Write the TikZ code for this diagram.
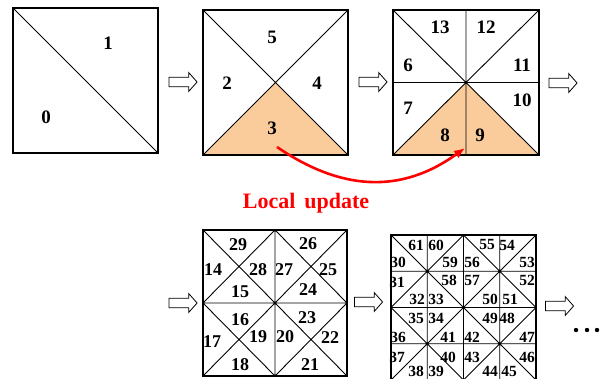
\documentclass[tikz,border=0pt]{standalone}
\usepackage{fontspec}
\setmainfont{Liberation Serif}
\usepackage{xcolor}
\usetikzlibrary{positioning, arrows.meta, shapes.arrows}
\definecolor{peach}{RGB}{250,204,156}

\begin{document}
\begin{tikzpicture}[
    x=1pt, y=-1pt,
    num/.style ={font=\fontsize{19}{19}\selectfont\bfseries, inner sep=0pt},
    numb/.style={font=\fontsize{18}{18}\selectfont\bfseries, inner sep=0pt},
    numc/.style={font=\fontsize{15.5}{15.5}\selectfont\bfseries, inner sep=0pt},
    frame/.style={draw, line width=1.2pt},
    cut/.style={draw, line width=0.9pt},
    hot/.style={fill=peach},
    nextarr/.style={
        single arrow,
        draw,
        line width=0.8pt,
        inner xsep=0pt,
        inner ysep=4.3pt,
        minimum height=28pt,
        single arrow head extend=4.7pt,
        single arrow tip angle=97
    },
    update/.style={-{Latex[length=11pt, width=9pt]}, line width=2.6pt, red}
]
\useasboundingbox (0,0) rectangle (601,379);

% stage 0
\draw[cut] (13,8) -- (158,153);
\draw[frame] (13,8) rectangle (158,153);
\node[num] (t0) at (46,117) {0};
\node[num] (t1) at (108,43) {1};

% stage 1
\fill[hot] (203,155) -- (275.5,82.5) -- (348,155) -- cycle;
\draw[cut] (203,10) -- (348,155) (348,10) -- (203,155);
\draw[frame] (203,10) rectangle (348,155);
\node[num] (t2) at (227,83)  {2};
\node[num] (t3) at (272,128) {3};
\node[num] (t4) at (317,83)  {4};
\node[num] (t5) at (272,37)  {5};

% stage 2
\fill[hot] (393,155) -- (466,82.5) -- (539,155) -- cycle;
\draw[cut] (393,10) -- (539,155) (539,10) -- (393,155)
           (466,10) -- (466,155) (393,82.5) -- (539,82.5);
\draw[frame] (393,10) rectangle (539,155);
\node[num] (t6)  at (408,65)  {6};
\node[num] (t7)  at (408,108) {7};
\node[num] (t8)  at (445,135) {8};
\node[num] (t9)  at (480,135) {9};
\node[num] (t10) at (522,100) {10};
\node[num] (t11) at (522,65)  {11};
\node[num] (t12) at (486,27)  {12};
\node[num] (t13) at (440,27)  {13};

% local update
\coordinate (from3) at (277,147);
\coordinate (to9)   at (465,148);
\draw[update] (from3) .. controls (340,190) and (400,195) .. (to9);
\node[font=\fontsize{22}{22}\selectfont\bfseries, text=red] (upd) at (306,203)
    {Local\hspace{9pt}update};

% stage 3
\draw[cut] (203,230) -- (347,376) (347,230) -- (203,376)
           (275,230) -- (275,376) (203,303) -- (347,303)
           (275,230) -- (203,303) -- (275,376) -- (347,303) -- cycle;
\draw[frame] (203,230) rectangle (347,376);
\node[numb] (t14) at (213,270) {14};
\node[numb] (t15) at (240,292) {15};
\node[numb] (t16) at (240,320) {16};
\node[numb] (t17) at (212,342) {17};
\node[numb] (t18) at (240,365) {18};
\node[numb] (t19) at (258,337) {19};
\node[numb] (t20) at (285,337) {20};
\node[numb] (t21) at (310,365) {21};
\node[numb] (t22) at (330,338) {22};
\node[numb] (t23) at (307,318) {23};
\node[numb] (t24) at (308,290) {24};
\node[numb] (t25) at (328,270) {25};
\node[numb] (t26) at (308,244) {26};
\node[numb] (t27) at (284,270) {27};
\node[numb] (t28) at (258,270) {28};
\node[numb] (t29) at (238,245) {29};

% stage 4
\draw[cut] (391,235) -- (536,380) (536,235) -- (391,380)
           (427.25,235) -- (427.25,380) (463.5,235) -- (463.5,380) (499.75,235) -- (499.75,380)
           (391,271.25) -- (536,271.25) (391,307.5) -- (536,307.5) (391,343.75) -- (536,343.75)
           (463.5,235) -- (391,307.5) -- (463.5,380) -- (536,307.5) -- cycle;
\draw[frame] (391,235) rectangle (536,380);
\fill (427.25,271.25) circle (1.3) (499.75,271.25) circle (1.3)
      (427.25,343.75) circle (1.3) (499.75,343.75) circle (1.3);
\node[numc] (t30) at (398,262) {30};
\node[numc] (t31) at (397,282) {31};
\node[numc] (t32) at (417,299) {32};
\node[numc] (t33) at (436,299) {33};
\node[numc] (t34) at (436,318) {34};
\node[numc] (t35) at (416,318) {35};
\node[numc] (t36) at (398,337) {36};
\node[numc] (t37) at (397,357) {37};
\node[numc] (t38) at (416,371) {38};
\node[numc] (t39) at (436,371) {39};
\node[numc] (t40) at (448,357) {40};
\node[numc] (t41) at (448,337) {41};
\node[numc] (t42) at (472,337) {42};
\node[numc] (t43) at (472,357) {43};
\node[numc] (t44) at (490,371) {44};
\node[numc] (t45) at (509,371) {45};
\node[numc] (t46) at (527,357) {46};
\node[numc] (t47) at (527,337) {47};
\node[numc] (t48) at (507,318) {48};
\node[numc] (t49) at (490,318) {49};
\node[numc] (t50) at (490,299) {50};
\node[numc] (t51) at (510,299) {51};
\node[numc] (t52) at (527,280) {52};
\node[numc] (t53) at (527,262) {53};
\node[numc] (t54) at (507,245) {54};
\node[numc] (t55) at (487,245) {55};
\node[numc] (t56) at (472,262) {56};
\node[numc] (t57) at (472,280) {57};
\node[numc] (t58) at (449,280) {58};
\node[numc] (t59) at (450,262) {59};
\node[numc] (t60) at (436,245) {60};
\node[numc] (t61) at (416,245) {61};

% refinement arrows
\node[nextarr] (a1) at (181,82)    {};
\node[nextarr] (a2) at (371,82)    {};
\node[nextarr] (a3) at (561,83)    {};
\node[nextarr] (a4) at (181,303)   {};
\node[nextarr] (a5) at (366.5,302) {};
\node[nextarr] (a6) at (557.5,306) {};

% more steps
\fill (576,330) circle (2.2) (587,330) circle (2.2) (597,330) circle (2.2);
\end{tikzpicture}
\end{document}
